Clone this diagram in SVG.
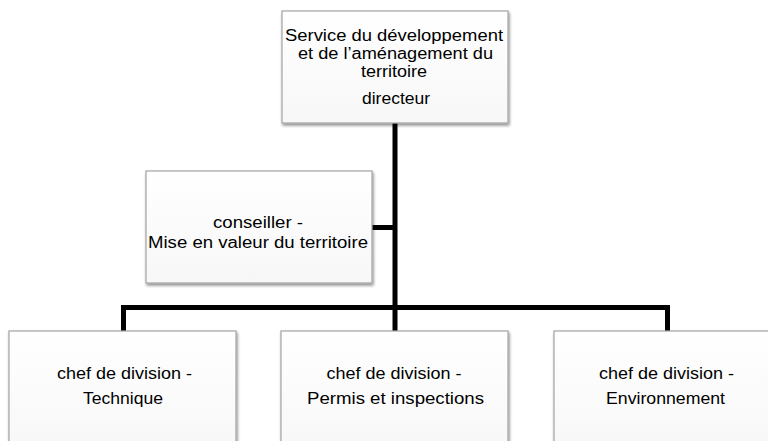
<svg xmlns="http://www.w3.org/2000/svg" width="768" height="441" viewBox="0 0 768 441">
<style>
.box{fill:url(#g);stroke:#a3a3a3;stroke-width:1.2;filter:url(#sh)}
.t{font-family:"Liberation Sans",Arial,sans-serif;font-size:16px;fill:#000;text-anchor:middle}
.c{fill:none;stroke:#000;stroke-width:5;stroke-linejoin:miter;stroke-linecap:butt}
</style>
<defs>
<linearGradient id="g" x1="0" y1="0" x2="0" y2="1">
<stop offset="0" stop-color="#ffffff"/>
<stop offset="1" stop-color="#f7f7f7"/>
</linearGradient>
<filter id="sh" x="-10%" y="-10%" width="120%" height="130%">
<feGaussianBlur in="SourceAlpha" stdDeviation="1.5"/>
<feOffset dx="1" dy="2" result="b"/>
<feComponentTransfer><feFuncA type="linear" slope="0.45"/></feComponentTransfer>
<feMerge><feMergeNode/><feMergeNode in="SourceGraphic"/></feMerge>
</filter>
</defs>
<rect width="768" height="441" fill="#fff"/>
<g id="connectors">
<path class="c" d="M395 123 V331"/>
<path class="c" d="M372 227.5 H395"/>
<path class="c" d="M123.5 331 V307.5 H667.5 V331"/>
</g>
<g id="directeur">
<rect class="box" x="282" y="11" width="226" height="112"/>
<text class="t" x="394" y="41" textLength="218" lengthAdjust="spacingAndGlyphs">Service du développement</text>
<text class="t" x="395.5" y="59" textLength="195" lengthAdjust="spacingAndGlyphs">et de l’aménagement du</text>
<text class="t" x="394" y="77" textLength="66" lengthAdjust="spacingAndGlyphs">territoire</text>
<text class="t" x="396" y="104" textLength="68" lengthAdjust="spacingAndGlyphs">directeur</text>
</g>
<g id="conseiller">
<rect class="box" x="146" y="171" width="226" height="112"/>
<text class="t" x="258" y="228" textLength="90" lengthAdjust="spacingAndGlyphs">conseiller -</text>
<text class="t" x="258" y="248" textLength="220" lengthAdjust="spacingAndGlyphs">Mise en valeur du territoire</text>
</g>
<g id="technique">
<rect class="box" x="9" y="331" width="227" height="125"/>
<text class="t" x="124.5" y="379" textLength="135" lengthAdjust="spacingAndGlyphs">chef de division -</text>
<text class="t" x="123" y="404" textLength="80" lengthAdjust="spacingAndGlyphs">Technique</text>
</g>
<g id="permis">
<rect class="box" x="281" y="331" width="227" height="125"/>
<text class="t" x="394" y="379" textLength="135" lengthAdjust="spacingAndGlyphs">chef de division -</text>
<text class="t" x="395.5" y="404" textLength="177" lengthAdjust="spacingAndGlyphs">Permis et inspections</text>
</g>
<g id="environnement">
<rect class="box" x="554" y="331" width="227" height="125"/>
<text class="t" x="666.5" y="379" textLength="135" lengthAdjust="spacingAndGlyphs">chef de division -</text>
<text class="t" x="665.5" y="404" textLength="119" lengthAdjust="spacingAndGlyphs">Environnement</text>
</g>
</svg>
